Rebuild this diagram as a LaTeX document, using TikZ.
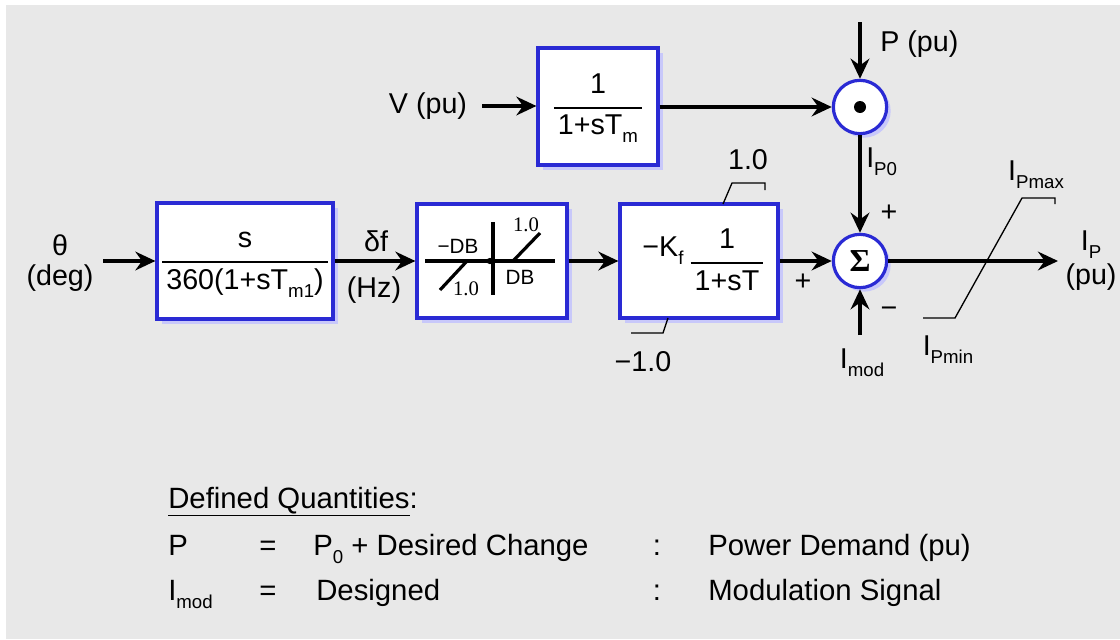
\documentclass[tikz,border=0pt]{standalone}
\usepackage{fontspec}
\setmainfont{Liberation Sans}
\newfontfamily\serifb{Liberation Serif}
\usetikzlibrary{arrows.meta,fit,shadows}
\definecolor{bg}{RGB}{232,232,232}
\definecolor{bblue}{RGB}{42,42,212}
\definecolor{shad}{RGB}{200,200,250}
\newcommand{\lsub}[1]{\raisebox{-0.28em}{\fontsize{14}{15}\selectfont #1}}
\newcommand{\fracbox}[2]{{\setlength{\arrayrulewidth}{1.4pt}\renewcommand{\arraystretch}{1.15}\begin{tabular}{@{\hspace{3pt}}c@{\hspace{3pt}}}#1\\[2pt]\hline #2\end{tabular}}}
\begin{document}
\begin{tikzpicture}[x=0.75pt,y=-0.75pt,
  every node/.style={inner sep=0pt, font=\fontsize{21.5}{24}\selectfont},
  blk/.style={draw=bblue, line width=2.4pt, fill=white,
    drop shadow={shadow xshift=3.5pt, shadow yshift=-3.5pt, fill=shad, opacity=1}},
  circ/.style={circle, draw=bblue, line width=2.4pt, fill=white, minimum size=40pt,
    drop shadow={shadow xshift=3pt, shadow yshift=-3pt, fill=shad, opacity=1}},
  sig/.style={line width=2.6pt, -{Stealth[length=15pt,width=14pt,inset=5pt]}},
  lim/.style={line width=1pt},
  dbl/.style={line width=2.4pt},
  small/.style={font=\fontsize{15.5}{16}\selectfont},
  smallserif/.style={font=\serifb\fontsize{15.5}{16}\selectfont},
  legend/.style={font=\fontsize{22}{24}\selectfont}]
\useasboundingbox (0,0) rectangle (1120,639);
\fill[white] (0,0) rectangle (1120,639);
\fill[bg] (6,5) rectangle (1120,639);

% blocks
\node[blk, fit={(157,203) (333,319)}] (b1) {};
\node at (b1.center) {\fracbox{s}{360(1+sT\lsub{m1})}};
\node[blk, fit={(538,48) (658,165)}] (bt) {};
\node at (bt.center) {\fracbox{1}{1+sT\lsub{m}}};
\node[blk, fit={(417,204) (567,318)}] (db) {};
\node[blk, fit={(620,204) (778,318)}] (kf) {};
\node (kft) at (663,251) {−K\lsub{f}};
\node (kff) at (727,262) {\fracbox{1}{1+sT}};

% summing / multiplying junctions
\node[circ] (mul) at (860,107) {};
\fill (mul.center) circle[radius=4.5pt];
\node[circ] (sum) at (860,261) {{\serifb\bfseries\fontsize{24}{24}\selectfont Σ}};

% deadband drawing
\draw[dbl] (425,261) -- (555,261);
\draw[dbl] (493,222) -- (493,295);
\draw[dbl] (440,290) -- (467,261);
\draw[dbl] (513,261) -- (540,233);
\fill (490,261) circle[radius=2.4pt];
\node[small] at (458,246) {−DB};
\node[small] at (520,277) {DB};
\node[smallserif] at (466,289) {1.0};
\node[smallserif] at (526,225) {1.0};

% limiter marks on K_f block
\draw[lim] (723,204) -- (732,183) -- (765,183) -- (765,190);
\draw[lim] (631,333) -- (663,333) -- (668,318);
\node at (748,160) {1.0};
\node at (643,362) {−1.0};

% input / output coordinates
\coordinate (thin) at (103,261);
\coordinate (vin) at (482,106);
\coordinate (pin) at (860,22);
\coordinate (imod) at (860,335);
\coordinate (out) at (1058,261);

% signals
\draw[sig] (thin) -- (b1.west |- thin);
\draw[sig] (b1.east |- thin) -- (db.west |- thin);
\draw[sig] (db.east |- thin) -- (kf.west |- thin);
\draw[sig] (kf.east |- thin) -- (sum.west);
\draw[sig] (sum.east) -- (out);
\draw[sig] (vin) -- (bt.west |- vin);
\draw[sig] (bt.east |- mul) -- (mul.west);
\draw[sig] (pin) -- (mul.north);
\draw[sig] (mul.south) -- (sum.north);
\draw[sig] (imod) -- (sum.south);

% output limiter
\draw[lim] (923,318) -- (955,318) -- (1022,198) -- (1055,198) -- (1055,204);

% labels
\node at (60,245) {θ};
\node at (60,278) {(deg)};
\node at (376,241) {δf};
\node at (374,290) {(Hz)};
\node at (428,106) {V (pu)};
\node[anchor=west] at (880,44) {P (pu)};
\node[anchor=west] at (866,162) {I\lsub{P0}};
\node at (889,213) {+};
\node at (803,282) {+};
\node at (889,312) {−};
\node at (862,363) {I\lsub{mod}};
\node at (1036,175) {I\lsub{Pmax}};
\node at (948,350) {I\lsub{Pmin}};
\node at (1091,245) {I\lsub{P}};
\node at (1091,277) {(pu)};

% defined quantities
\node[legend, anchor=base west] at (168,508) {\underline{Defined Quantities}:};
\node[legend, anchor=base west] at (168,555) {P};
\node[legend, anchor=base] at (268,555) {=};
\node[legend, anchor=base west] at (313,555) {P\lsub{0} + Desired Change};
\node[legend, anchor=base] at (657,555) {:};
\node[legend, anchor=base west] at (708,555) {Power Demand (pu)};
\node[legend, anchor=base west] at (168,600) {I\lsub{mod}};
\node[legend, anchor=base] at (268,600) {=};
\node[legend, anchor=base west] at (316,600) {Designed};
\node[legend, anchor=base] at (657,600) {:};
\node[legend, anchor=base west] at (708,600) {Modulation Signal};
\end{tikzpicture}
\end{document}
